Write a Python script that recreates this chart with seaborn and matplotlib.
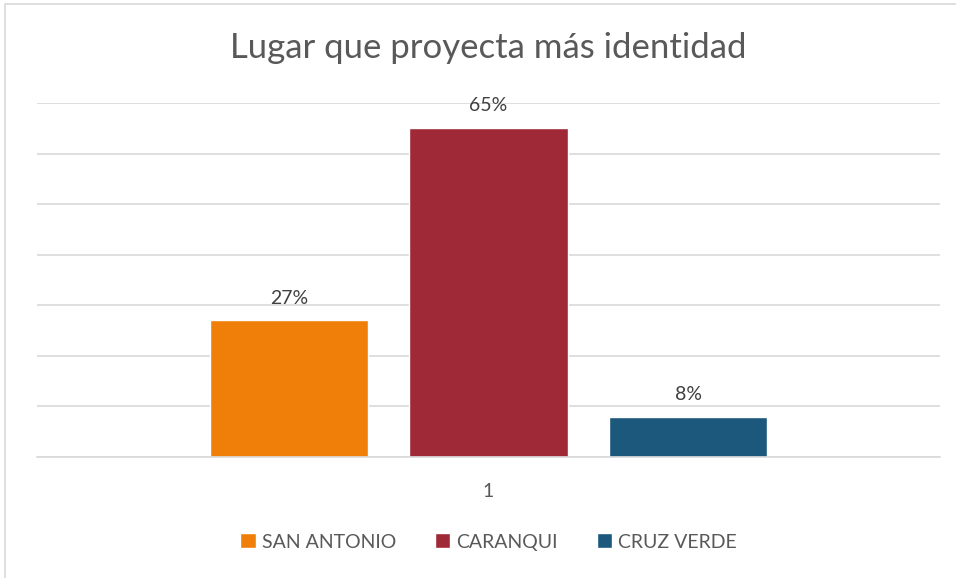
import pandas as pd
import matplotlib.pyplot as plt
import seaborn as sns
from matplotlib.patches import Rectangle

# datos
lugares = ['SAN ANTONIO', 'CARANQUI', 'CRUZ VERDE']
porcentajes = [27, 65, 8]
categoria = ['1', '1', '1']
colores = ['#F07F09', '#A02937', '#1B587C']

df = pd.DataFrame({'cat': categoria, 'lugar': lugares, 'pct': porcentajes})

sns.set_theme(style="white")
plt.rcParams['font.family'] = ['Lato', 'DejaVu Sans']
gris = '#595959'

fig = plt.figure(figsize=(9.56, 5.78), dpi=100)
ax = fig.add_axes([37 / 956, 1 - 457 / 578, (940 - 37) / 956, (457 - 103) / 578])

sns.barplot(data=df, x='cat', y='pct', hue='lugar', palette=colores,
            width=0.663, gap=0.208, saturation=1, ax=ax)

ax.set_ylim(0, 70)
ax.set_xlim(-0.5, 0.5)
ax.set_yticks(range(0, 71, 10))
ax.yaxis.grid(True, color='#D9D9D9', linewidth=1.2)
ax.set_axisbelow(True)
ax.tick_params(axis='y', left=False, labelleft=False)
ax.tick_params(axis='x', bottom=False, labelsize=14, labelcolor=gris, pad=13)
ax.set_xlabel('')
ax.set_ylabel('')
for s in ['top', 'right', 'left']:
    ax.spines[s].set_visible(False)
ax.spines['bottom'].set_color('#D9D9D9')
ax.spines['bottom'].set_linewidth(1.2)

for cont in ax.containers:
    ax.bar_label(cont, fmt='%d%%', padding=10, fontsize=14, color='#404040')

fig.text(488.5 / 956, 1 - 48 / 578, 'Lugar que proyecta más identidad', ha='center', va='center',
         fontsize=25, color=gris)

leg = ax.legend(loc='center', bbox_to_anchor=(0.5, (457 - 542) / (457 - 103)), ncol=3,
                frameon=False, fontsize=14, handlelength=0.8, handleheight=0.8,
                handletextpad=0.3, columnspacing=2.0)
for t in leg.get_texts():
    t.set_color(gris)

# borde del grafico
fig.patches.append(Rectangle((5 / 956, -0.1), 1.2, 1 - 4 / 578 + 0.1, transform=fig.transFigure,
                             fill=False, edgecolor='#D9D9D9', linewidth=1.2))

fig.savefig('out.png', dpi=100)
